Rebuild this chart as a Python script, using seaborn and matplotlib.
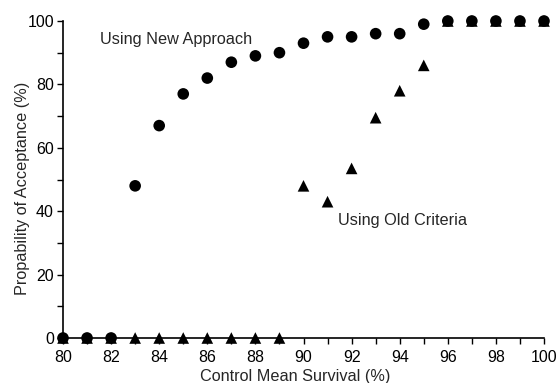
import matplotlib
matplotlib.use("Agg")
import matplotlib.pyplot as plt
import seaborn as sns
import pandas as pd
from matplotlib.ticker import MultipleLocator

survival = list(range(80, 101))
new_approach = [0, 0, 0, 48, 67, 77, 82, 87, 89, 90, 93, 95, 95, 96, 96, 99, 100, 100, 100, 100, 100]
old_criteria = [0, 0, 0, 0, 0, 0, 0, 0, 0, 0, 48, 43, 53.5, 69.5, 78, 86, 100, 100, 100, 100, 100]
series_names = ["Using Old Criteria", "Using New Approach"]

df = pd.DataFrame({
    "survival": survival * 2,
    "prob": old_criteria + new_approach,
    "method": [series_names[0]] * len(survival) + [series_names[1]] * len(survival),
})

sns.set_style("ticks")
plt.rcParams['font.family'] = ['Liberation Sans', 'DejaVu Sans']

fig = plt.figure(figsize=(5.59, 3.83), dpi=100)
ax = fig.add_axes([63/559, 1-338/383, (544-63)/559, (338-21)/383])

sns.scatterplot(data=df, x="survival", y="prob", style="method",
                markers={series_names[0]: "^", series_names[1]: "o"},
                hue="method", palette={series_names[0]: "black", series_names[1]: "black"},
                s=70, linewidth=0, legend=False, clip_on=False, ax=ax, zorder=3)

ax.set_xlim(80, 100)
ax.set_ylim(0, 100)
ax.xaxis.set_major_locator(MultipleLocator(2))
ax.xaxis.set_minor_locator(MultipleLocator(1))
ax.yaxis.set_major_locator(MultipleLocator(20))
ax.yaxis.set_minor_locator(MultipleLocator(10))
ax.tick_params(which="both", direction="out", length=4, width=1, colors="black", labelsize=11.5)
ax.tick_params(axis="x", which="major", pad=4.5)
ax.tick_params(axis="y", which="major", pad=2.5)
sns.despine(ax=ax)
for sp in ["left", "bottom"]:
    ax.spines[sp].set_linewidth(1.2)
    ax.spines[sp].set_color("black")

ax.set_xlabel("Control Mean Survival (%)", fontsize=11.7)
ax.set_ylabel("Propability of Acceptance (%)", fontsize=11.7)
ax.xaxis.set_label_coords(0.483, -0.098)
ax.yaxis.set_label_coords(-0.069, 0.473)

ax.text(81.55, 94.3, "Using New Approach", fontsize=11.7, ha="left", va="center")
ax.text(91.45, 37.2, "Using Old Criteria", fontsize=11.7, ha="left", va="center")

fig.savefig("out.png", dpi=100)
